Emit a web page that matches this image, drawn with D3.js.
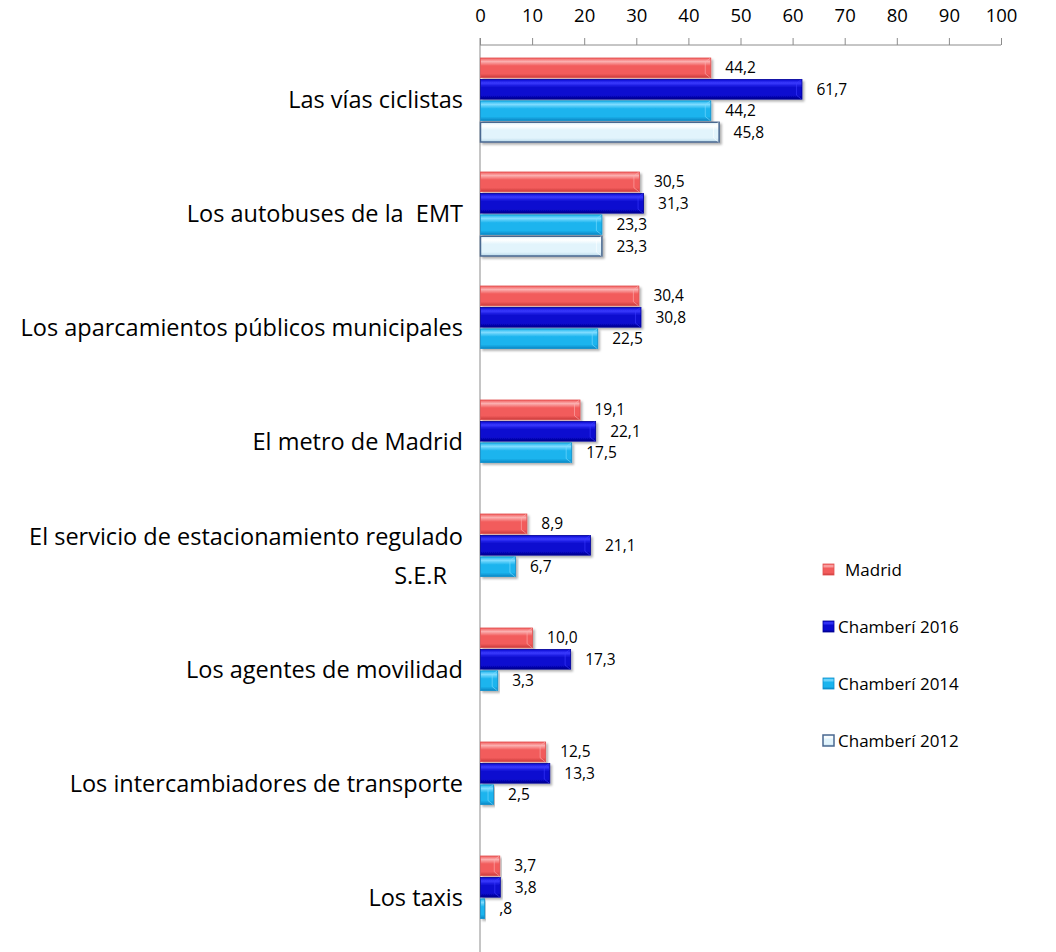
<!DOCTYPE html>
<html>
<head>
<meta charset="utf-8">
<script src="https://cdn.jsdelivr.net/npm/d3@7"></script>
<style>
  body { margin: 0; background: #fff; }
  text { font-family: "Open Sans", Lato, sans-serif; fill: #000; white-space: pre; }
</style>
</head>
<body>
<svg id="chart"></svg>
<script>
var width = 1056;
var height = 952;

var categories = [
  'Las vías ciclistas',
  'Los autobuses de la  EMT',
  'Los aparcamientos públicos municipales',
  'El metro de Madrid',
  'El servicio de estacionamiento regulado|S.E.R',
  'Los agentes de movilidad',
  'Los intercambiadores de transporte',
  'Los taxis'
];
var seriesNames = ['Madrid', 'Chamberí 2016', 'Chamberí 2014', 'Chamberí 2012'];
var madrid = [44.2, 30.5, 30.4, 19.1, 8.9, 10.0, 12.5, 3.7];
var chamberi2016 = [61.7, 31.3, 30.8, 22.1, 21.1, 17.3, 13.3, 3.8];
var chamberi2014 = [44.2, 23.3, 22.5, 17.5, 6.7, 3.3, 2.5, 0.8];
var chamberi2012 = [45.8, 23.3, null, null, null, null, null, null];
var tickValues = [0, 10, 20, 30, 40, 50, 60, 70, 80, 90, 100];

var allSeries = [madrid, chamberi2016, chamberi2014, chamberi2012];

// colours: [top light, main, bottom dark, stroke]
var palette = [
  ['#fbb0b0', '#f25c5c', '#c83a3a', '#e05050'],
  ['#3a3aff', '#0a0ad0', '#00008a', '#00009a'],
  ['#7fdcff', '#1ab4ee', '#0a86c4', '#0a90cc'],
  ['#ffffff', '#e2f4fc', '#b8d8ea', '#4a6890']
];

var svg = d3.select('#chart')
  .attr('width', width)
  .attr('height', height);

var defs = svg.append('defs');

palette.forEach(function(c, i) {
  var g = defs.append('linearGradient')
    .attr('id', 'grad-' + i)
    .attr('x1', 0).attr('y1', 0).attr('x2', 0).attr('y2', 1);
  g.append('stop').attr('offset', '0%').attr('stop-color', c[1]);
  g.append('stop').attr('offset', '18%').attr('stop-color', c[0]);
  g.append('stop').attr('offset', '40%').attr('stop-color', c[1]);
  g.append('stop').attr('offset', '80%').attr('stop-color', c[1]);
  g.append('stop').attr('offset', '100%').attr('stop-color', c[2]);
});

var shadow = defs.append('filter').attr('id', 'shadow')
  .attr('x', '-5%').attr('y', '-20%').attr('width', '115%').attr('height', '160%');
shadow.append('feDropShadow')
  .attr('dx', 2).attr('dy', 2).attr('stdDeviation', 1.2)
  .attr('flood-color', '#000').attr('flood-opacity', 0.3);

var x = d3.scaleLinear()
  .domain([0, 100])
  .range([480, 1001]);

var y = d3.scaleBand()
  .domain(categories)
  .range([43, 955]);

var ySeries = d3.scaleBand()
  .domain(d3.range(seriesNames.length))
  .range([15, 99])
  .paddingInner(0.08);

// top axis
var axisG = svg.append('g')
  .attr('transform', 'translate(0,45)')
  .call(d3.axisTop(x).tickValues(tickValues).tickSize(7).tickPadding(16));
axisG.select('.domain').attr('stroke', '#8c8c8c').attr('d', 'M480,0H1001');
axisG.selectAll('.tick line').attr('stroke', '#8c8c8c');
axisG.selectAll('.tick text')
  .style('font-size', '18.5px')
  .style('font-family', '"Open Sans", Lato, sans-serif')
  .attr('fill', '#000');

// vertical axis line
svg.append('line')
  .attr('x1', x(0)).attr('x2', x(0))
  .attr('y1', 38).attr('y2', height)
  .attr('stroke', '#8c8c8c');

// category labels
categories.forEach(function(c) {
  var lines = c.split('|');
  var cy = y(c) + y.bandwidth() / 2;
  var t = svg.append('text')
    .attr('text-anchor', 'end')
    .style('font-size', '23.5px');
  lines.forEach(function(line, i) {
    var dy = (i - (lines.length - 1) / 2) * 39;
    t.append('tspan')
      .attr('x', i === 0 ? 463 : 447)
      .attr('y', cy + dy)
      .attr('dy', '0.35em')
      .text(line);
  });
});

function fmt(v) {
  var s = d3.format('.1f')(v).replace('.', ',');
  return s.replace(/^0,/, ',');
}

var groups = svg.selectAll('.cat')
  .data(categories)
  .enter()
  .append('g')
  .attr('class', 'cat')
  .attr('transform', function(d) { return 'translate(0,' + y(d) + ')'; });

groups.each(function(cat, ci) {
  var g = d3.select(this);
  allSeries.forEach(function(vals, si) {
    var v = vals[ci];
    if (v === null) return;
    var by = ySeries(si);
    var bh = ySeries.bandwidth();
    var bw = x(v) - x(0);
    g.append('rect')
      .attr('x', x(0) + 0.5)
      .attr('y', by)
      .attr('width', Math.max(bw, 1.5))
      .attr('height', bh)
      .attr('fill', 'url(#grad-' + si + ')')
      .attr('stroke', palette[si][3])
      .attr('stroke-width', si === 3 ? 1.5 : 0.8)
      .attr('filter', 'url(#shadow)');
    // bevel end corners
    if (bw > 8) {
      g.append('path')
        .attr('d', 'M' + (x(v) - 5) + ',' + (by + 4) + 'L' + x(v) + ',' + by +
          'M' + (x(v) - 5) + ',' + (by + bh - 4) + 'L' + x(v) + ',' + (by + bh) +
          'M' + (x(v) - 5) + ',' + (by + 4) + 'L' + (x(v) - 5) + ',' + (by + bh - 4))
        .attr('stroke', palette[si][0])
        .attr('stroke-opacity', 0.6)
        .attr('fill', 'none');
    }
    g.append('text')
      .attr('x', x(v) + 15)
      .attr('y', by + bh / 2)
      .attr('dy', '0.35em')
      .style('font-size', '15.5px')
      .text(fmt(v));
  });
});

// legend
var legend = svg.append('g').attr('class', 'legend');
seriesNames.forEach(function(name, i) {
  var ly = 570 + i * 57;
  legend.append('rect')
    .attr('x', 823).attr('y', ly - 6)
    .attr('width', 11).attr('height', 11)
    .attr('fill', 'url(#grad-' + i + ')')
    .attr('stroke', palette[i][3])
    .attr('stroke-width', i === 3 ? 1.5 : 0.8);
  legend.append('text')
    .attr('x', i === 0 ? 845 : 838)
    .attr('y', ly)
    .attr('dy', '0.35em')
    .style('font-size', '17px')
    .text(name);
});
</script>
</body>
</html>
